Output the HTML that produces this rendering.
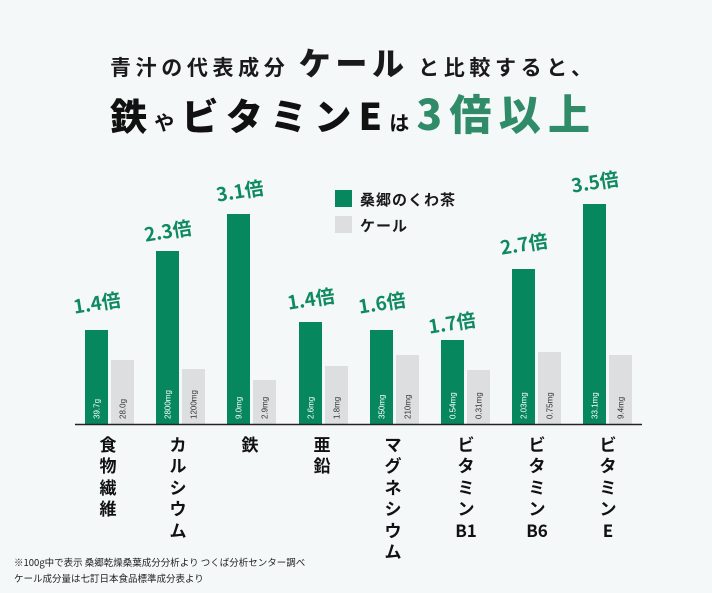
<!DOCTYPE html>
<html><head><meta charset="utf-8"><style>
html,body{margin:0;padding:0;background:#f5f8f9;}
svg{display:block;font-family:"Liberation Sans","Noto Sans CJK JP",sans-serif;}
</style></head><body>
<svg width="712" height="593" viewBox="0 0 712 593" xmlns="http://www.w3.org/2000/svg">
<rect width="712" height="593" fill="#f5f8f9"/>
<!-- Title -->
<text x="110" y="75" textLength="482" lengthAdjust="spacing" font-weight="bold" fill="#1a1a1a" font-family="Noto Sans CJK JP, sans-serif"><tspan font-size="21">青汁の代表成分 </tspan><tspan font-size="32" font-weight="900">ケール</tspan><tspan font-size="21"> と比較すると、</tspan></text>
<text x="110" y="130" textLength="480" lengthAdjust="spacing" font-weight="bold" fill="#111" font-family="Noto Sans CJK JP, sans-serif"><tspan font-size="37" font-weight="900">鉄</tspan><tspan font-size="20">や</tspan><tspan font-size="37" font-weight="900">ビタミンE</tspan><tspan font-size="20">は</tspan><tspan font-size="42" font-weight="900" fill="#2f8b68">3倍以上</tspan></text>
<!-- Legend -->
<rect x="335" y="190" width="17" height="17" fill="#07875e"/>
<text x="360" y="205" font-size="15" font-weight="bold" fill="#1a1a1a" font-family="Noto Sans CJK JP, sans-serif" letter-spacing="1">桑郷のくわ茶</text>
<rect x="335" y="216" width="17" height="17" fill="#dcdedf"/>
<text x="360" y="231" font-size="15" font-weight="bold" fill="#1a1a1a" font-family="Noto Sans CJK JP, sans-serif" letter-spacing="1">ケール</text>
<!-- bars -->
<g fill="#07875e">
<rect x="85" y="330" width="23" height="94"/>
<rect x="156" y="251" width="23" height="173"/>
<rect x="227" y="214" width="23" height="210"/>
<rect x="299" y="322" width="23" height="102"/>
<rect x="370" y="330" width="23" height="94"/>
<rect x="441" y="340" width="23" height="84"/>
<rect x="512" y="269" width="23" height="155"/>
<rect x="583" y="204" width="23" height="220"/>
</g>
<g fill="#dcdedf">
<rect x="111" y="360" width="23" height="64"/>
<rect x="182" y="369" width="23" height="55"/>
<rect x="253" y="380" width="23" height="44"/>
<rect x="325" y="366" width="23" height="58"/>
<rect x="396" y="355" width="23" height="69"/>
<rect x="467" y="370" width="23" height="54"/>
<rect x="538" y="352" width="23" height="72"/>
<rect x="609" y="355" width="23" height="69"/>
</g>
<!-- bar values -->
<g font-size="8" fill="#ffffff">
<text transform="translate(99.5,419) rotate(-90)">39.7g</text>
<text transform="translate(170.5,419) rotate(-90)">2800mg</text>
<text transform="translate(241.5,419) rotate(-90)">9.0mg</text>
<text transform="translate(313.5,419) rotate(-90)">2.6mg</text>
<text transform="translate(384.5,419) rotate(-90)">350mg</text>
<text transform="translate(455.5,419) rotate(-90)">0.54mg</text>
<text transform="translate(526.5,419) rotate(-90)">2.03mg</text>
<text transform="translate(597.5,419) rotate(-90)">33.1mg</text>
</g>
<g font-size="8" fill="#333">
<text transform="translate(125.5,419) rotate(-90)">28.0g</text>
<text transform="translate(196.5,419) rotate(-90)">1200mg</text>
<text transform="translate(267.5,419) rotate(-90)">2.9mg</text>
<text transform="translate(339.5,419) rotate(-90)">1.8mg</text>
<text transform="translate(410.5,419) rotate(-90)">210mg</text>
<text transform="translate(481.5,419) rotate(-90)">0.31mg</text>
<text transform="translate(552.5,419) rotate(-90)">0.75mg</text>
<text transform="translate(623.5,419) rotate(-90)">9.4mg</text>
</g>
<line x1="75" y1="424.5" x2="642" y2="424.5" stroke="#222" stroke-width="1.5"/>
<!-- multipliers -->
<g font-size="19" font-weight="bold" fill="#0f8a5f" text-anchor="middle" font-family="Noto Sans CJK JP, sans-serif">
<text transform="translate(98,310) rotate(-9)">1.4倍</text>
<text transform="translate(169,238) rotate(-9)">2.3倍</text>
<text transform="translate(241,198) rotate(-9)">3.1倍</text>
<text transform="translate(312,306) rotate(-9)">1.4倍</text>
<text transform="translate(383,310) rotate(-9)">1.6倍</text>
<text transform="translate(453,330) rotate(-9)">1.7倍</text>
<text transform="translate(525,251) rotate(-9)">2.7倍</text>
<text transform="translate(596,189) rotate(-9)">3.5倍</text>
</g>
<!-- categories -->
<g font-size="17" font-weight="bold" fill="#111" text-anchor="middle" font-family="Noto Sans CJK JP, sans-serif">
<text x="108" y="451">食</text><text x="108" y="472">物</text><text x="108" y="494">繊</text><text x="108" y="515">維</text>
<text x="178" y="451">カ</text><text x="178" y="472">ル</text><text x="178" y="494">シ</text><text x="178" y="515">ウ</text><text x="178" y="537">ム</text>
<text x="250" y="451">鉄</text>
<text x="322" y="451">亜</text><text x="322" y="472">鉛</text>
<text x="393" y="451">マ</text><text x="393" y="472">グ</text><text x="393" y="494">ネ</text><text x="393" y="515">シ</text><text x="393" y="537">ウ</text><text x="393" y="558">ム</text>
<text x="466" y="451">ビ</text><text x="466" y="472">タ</text><text x="466" y="494">ミ</text><text x="466" y="515">ン</text><text x="466" y="537">B1</text>
<text x="537" y="451">ビ</text><text x="537" y="472">タ</text><text x="537" y="494">ミ</text><text x="537" y="515">ン</text><text x="537" y="537">B6</text>
<text x="608" y="451">ビ</text><text x="608" y="472">タ</text><text x="608" y="494">ミ</text><text x="608" y="515">ン</text><text x="608" y="537">E</text>
</g>
<g font-size="9.5" fill="#222" font-family="Noto Sans CJK JP, sans-serif">
<text x="14" y="566">※100g中で表示  桑郷乾燥桑葉成分分析より  つくば分析センター調べ</text>
<text x="14" y="582">ケール成分量は七訂日本食品標準成分表より</text>
</g>
</svg>
</body></html>
